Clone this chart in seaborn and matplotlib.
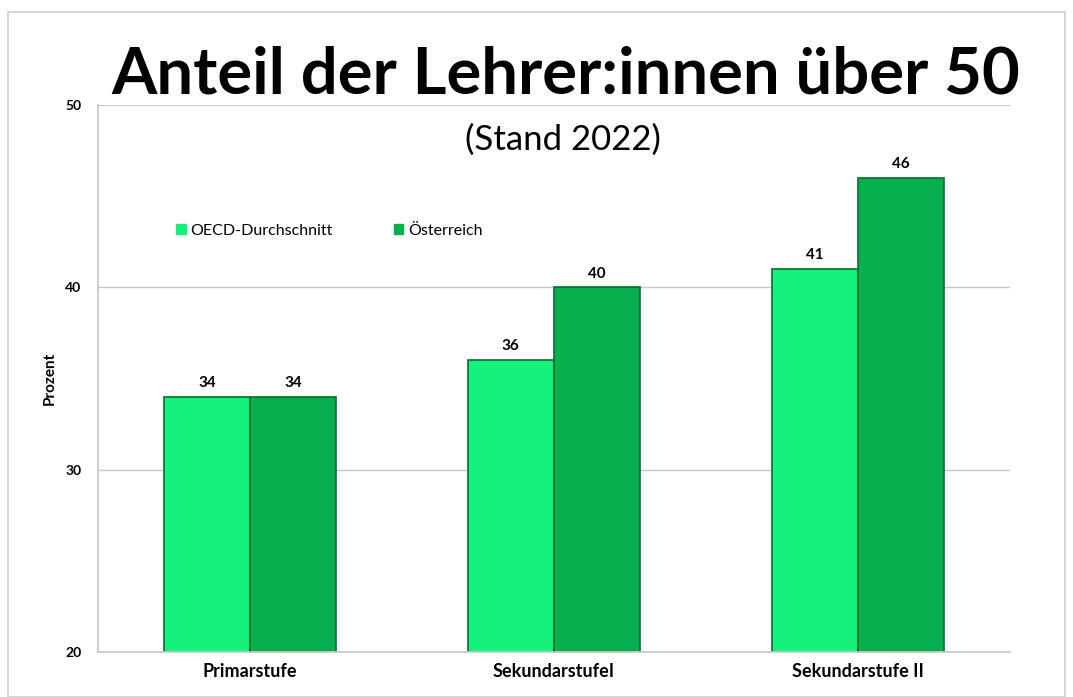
import matplotlib
matplotlib.use("Agg")
import matplotlib.pyplot as plt
import seaborn as sns
import pandas as pd
from matplotlib.patches import Rectangle

# data
stufen = ["Primarstufe", "SekundarstufeI", "Sekundarstufe II"]
oecd = [34, 36, 41]
oesterreich = [34, 40, 46]
serien = ["OECD-Durchschnitt", "Österreich"]

df = pd.DataFrame({
    "Stufe": stufen * 2,
    "Serie": [serien[0]] * 3 + [serien[1]] * 3,
    "Prozent": oecd + oesterreich,
})

sns.set_theme(style="white")
plt.rcParams["font.family"] = ["Lato", "DejaVu Sans"]
plt.rcParams["text.color"] = "black"
plt.rcParams["axes.labelcolor"] = "black"
plt.rcParams["xtick.labelcolor"] = "black"
plt.rcParams["ytick.labelcolor"] = "black"

fig = plt.figure(figsize=(10.73, 6.97), dpi=100)
ax = fig.add_axes([0.0913, 0.0646, 0.8497, 0.7844])

palette = {serien[0]: "#14F27A", serien[1]: "#06B04E"}
sns.barplot(data=df, x="Stufe", y="Prozent", hue="Serie", palette=palette,
            width=0.566, edgecolor="#0B6B30", linewidth=1.2, saturation=1,
            ax=ax, legend=False)

ax.set_ylim(20, 50)
ax.set_xlim(-0.5, 2.5)
ax.set_yticks([20, 30, 40, 50])
ax.yaxis.grid(True, color="#C8C8C8", linewidth=1)
ax.set_axisbelow(True)
for s in ["top", "right"]:
    ax.spines[s].set_visible(False)
ax.spines["left"].set_color("#C8C8C8")
ax.spines["bottom"].set_color("#C8C8C8")
ax.tick_params(axis="y", length=4, color="#C8C8C8", labelsize=10, pad=8)
ax.tick_params(axis="x", length=0, labelsize=13, pad=8)
for lbl in ax.get_yticklabels() + ax.get_xticklabels():
    lbl.set_fontweight("bold")
ax.set_xticks([0.5, 1.5], minor=True)
ax.tick_params(axis="x", which="minor", length=4, color="#C8C8C8")
ax.set_xlabel("")
ax.set_ylabel("Prozent", fontsize=11, fontweight="bold", labelpad=6)

for cont in ax.containers:
    ax.bar_label(cont, fmt="%d", padding=5, fontsize=11, fontweight="bold")

# legend
ax.legend(handles=[Rectangle((0, 0), 1, 1, color=palette[s]) for s in serien],
          labels=serien, loc="upper left", bbox_to_anchor=(0.07, 0.81),
          ncol=2, frameon=False, fontsize=11.5, handlelength=0.6,
          handleheight=0.6, handletextpad=0.3, columnspacing=3.8)

fig.text(0.527, 0.892, "Anteil der Lehrer:innen über 50", ha="center",
         va="center", fontsize=47, fontweight="bold")
fig.text(0.525, 0.8, "(Stand 2022)", ha="center", va="center", fontsize=25)

# outer frame
fig.patches.append(Rectangle((0.0075, 0.0), 0.985, 0.983, transform=fig.transFigure,
                             fill=False, edgecolor="#D0D0D0", linewidth=1.2))

fig.savefig("out.png", dpi=100)
